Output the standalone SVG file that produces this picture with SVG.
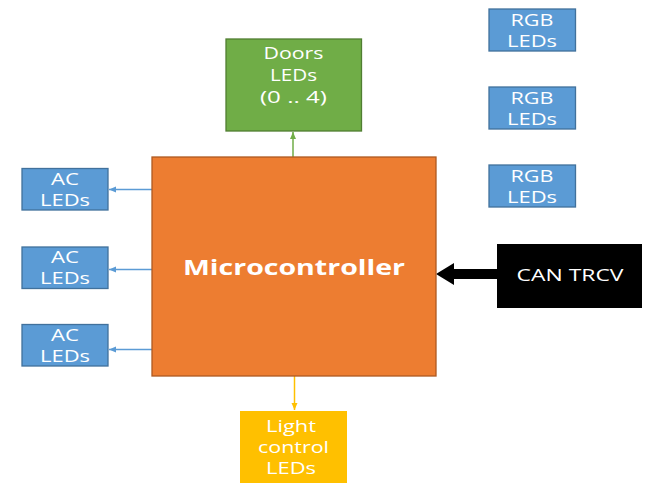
<svg xmlns="http://www.w3.org/2000/svg" width="654" height="496" viewBox="0 0 654 496">
<style>
  .lbl { font-family: "Open Sans", "Noto Sans", "Liberation Sans", sans-serif; fill: #ffffff; text-anchor: middle; dominant-baseline: central; font-size: 15.5px; }
  .blue { fill: #5B9BD5; stroke: #41719C; stroke-width: 1.3; }
</style>
<defs>
  <marker id="ab" markerWidth="8" markerHeight="8" refX="7" refY="4" orient="auto" markerUnits="userSpaceOnUse">
    <path d="M0,1 L7,4 L0,7 Z" fill="#5B9BD5"/>
  </marker>
  <marker id="ag" markerWidth="8" markerHeight="8" refX="7" refY="4" orient="auto" markerUnits="userSpaceOnUse">
    <path d="M0,1 L7,4 L0,7 Z" fill="#70AD47"/>
  </marker>
  <marker id="ay" markerWidth="8" markerHeight="8" refX="7" refY="4" orient="auto" markerUnits="userSpaceOnUse">
    <path d="M0,1 L7,4 L0,7 Z" fill="#FFC000"/>
  </marker>
</defs>
<rect width="654" height="496" fill="#ffffff"/>
<g id="connectors">
  <line x1="152" y1="189.5" x2="109" y2="189.5" stroke="#5B9BD5" stroke-width="1.3" marker-end="url(#ab)"/>
  <line x1="152" y1="269.5" x2="109" y2="269.5" stroke="#5B9BD5" stroke-width="1.3" marker-end="url(#ab)"/>
  <line x1="152" y1="349.5" x2="109" y2="349.5" stroke="#5B9BD5" stroke-width="1.3" marker-end="url(#ab)"/>
  <line x1="293" y1="157" x2="293" y2="132" stroke="#70AD47" stroke-width="1.5" marker-end="url(#ag)"/>
  <line x1="294.5" y1="376" x2="294.5" y2="410" stroke="#FFC000" stroke-width="1.5" marker-end="url(#ay)"/>
  <path d="M497,269 L454,269 L454,263 L436,274 L454,285 L454,279 L497,279 Z" fill="#000000"/>
</g>
<g id="doors">
  <rect x="226" y="39" width="135.5" height="92" fill="#70AD47" stroke="#507E32" stroke-width="1.3"/>
  <text class="lbl" x="293.5" y="53" textLength="60" lengthAdjust="spacingAndGlyphs">Doors</text>
  <text class="lbl" x="293.5" y="75" textLength="47" lengthAdjust="spacingAndGlyphs">LEDs</text>
  <text class="lbl" x="293.5" y="97" textLength="67" lengthAdjust="spacingAndGlyphs">(0 .. 4)</text>
</g>
<g id="rgb1">
  <rect x="489" y="9" width="86.5" height="42" class="blue"/>
  <text class="lbl" x="532" y="19.5" textLength="43" lengthAdjust="spacingAndGlyphs">RGB</text>
  <text class="lbl" x="532" y="40.5" textLength="50" lengthAdjust="spacingAndGlyphs">LEDs</text>
</g>
<g id="rgb2">
  <rect x="489" y="87" width="86.5" height="42" class="blue"/>
  <text class="lbl" x="532" y="97.5" textLength="43" lengthAdjust="spacingAndGlyphs">RGB</text>
  <text class="lbl" x="532" y="118.5" textLength="50" lengthAdjust="spacingAndGlyphs">LEDs</text>
</g>
<g id="rgb3">
  <rect x="489" y="165" width="86.5" height="42" class="blue"/>
  <text class="lbl" x="532" y="175.5" textLength="43" lengthAdjust="spacingAndGlyphs">RGB</text>
  <text class="lbl" x="532" y="196.5" textLength="50" lengthAdjust="spacingAndGlyphs">LEDs</text>
</g>
<g id="ac1">
  <rect x="22" y="168.5" width="86" height="41.5" class="blue"/>
  <text class="lbl" x="65" y="178.5" textLength="28" lengthAdjust="spacingAndGlyphs">AC</text>
  <text class="lbl" x="65" y="199.5" textLength="50" lengthAdjust="spacingAndGlyphs">LEDs</text>
</g>
<g id="ac2">
  <rect x="22" y="247" width="86" height="41.5" class="blue"/>
  <text class="lbl" x="65" y="257" textLength="28" lengthAdjust="spacingAndGlyphs">AC</text>
  <text class="lbl" x="65" y="278" textLength="50" lengthAdjust="spacingAndGlyphs">LEDs</text>
</g>
<g id="ac3">
  <rect x="22" y="324.5" width="86" height="41.5" class="blue"/>
  <text class="lbl" x="65" y="334.5" textLength="28" lengthAdjust="spacingAndGlyphs">AC</text>
  <text class="lbl" x="65" y="355.5" textLength="50" lengthAdjust="spacingAndGlyphs">LEDs</text>
</g>
<g id="microcontroller">
  <rect x="152" y="157" width="284" height="219" fill="#ED7D31" stroke="#AE5A21" stroke-width="1.3"/>
  <text class="lbl" x="294" y="266" style="font-size:22px" font-weight="bold" textLength="222" lengthAdjust="spacingAndGlyphs">Microcontroller</text>
</g>
<g id="can">
  <rect x="497" y="244" width="145" height="64" fill="#000000"/>
  <text class="lbl" x="570" y="274" style="font-size:17px" textLength="107" lengthAdjust="spacingAndGlyphs">CAN TRCV</text>
</g>
<g id="light">
  <rect x="240" y="411" width="107" height="72" fill="#FFC000"/>
  <text class="lbl" x="291" y="425.5" textLength="50" lengthAdjust="spacingAndGlyphs">Light</text>
  <text class="lbl" x="293.5" y="446.5" textLength="71" lengthAdjust="spacingAndGlyphs">control</text>
  <text class="lbl" x="291" y="467.5" textLength="50" lengthAdjust="spacingAndGlyphs">LEDs</text>
</g>
</svg>
